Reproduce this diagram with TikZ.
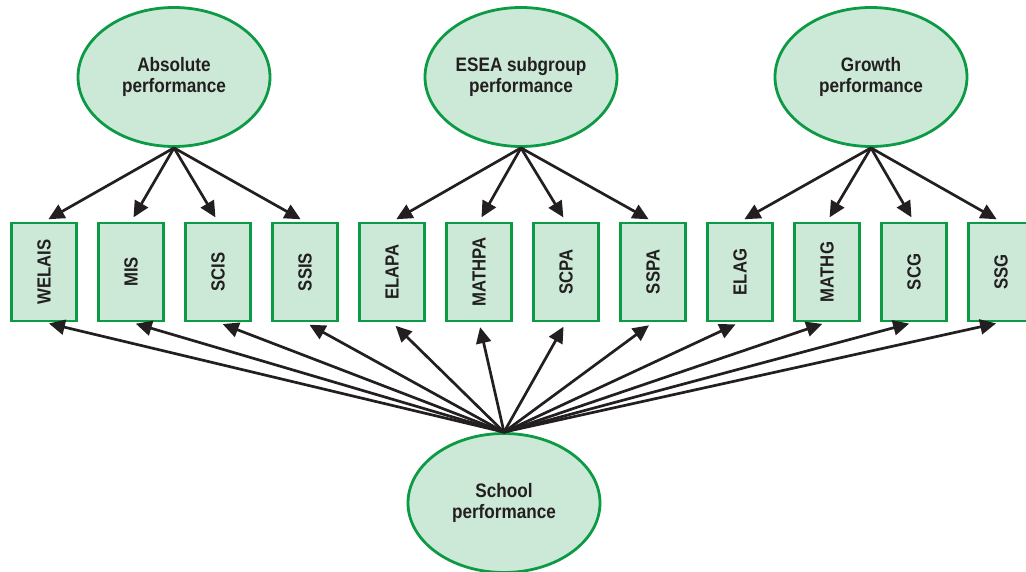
\documentclass[tikz,border=0pt]{standalone}
\usepackage{fontspec}
\setmainfont{Liberation Sans}[FakeStretch=0.88]
\usetikzlibrary{shapes.geometric,arrows.meta,positioning}
\definecolor{grn}{HTML}{0C9A45}
\definecolor{lgrn}{HTML}{CCE9D8}
\definecolor{blx}{HTML}{231F20}
\tikzset{
  latent/.style={ellipse,draw=grn,fill=lgrn,line width=2.8pt,minimum width=192pt,
    minimum height=139pt,inner sep=0pt,align=center,text=blx,
    font=\fontsize{19.5}{21.5}\selectfont\bfseries},
  measure/.style={rectangle,draw=grn,fill=lgrn,line width=2.6pt,minimum width=65pt,
    minimum height=98pt,inner sep=0pt,text=blx,font=\fontsize{19}{21}\selectfont\bfseries},
  load/.style={-{Triangle[length=16pt,width=15pt]},line width=2.7pt,draw=blx,shorten >=5pt}
}
\begin{document}
\begin{tikzpicture}[x=1pt,y=1pt]
    \useasboundingbox (0,0) rectangle (1026,571);

    % factors
    \node[latent] (abs) at (174,494) {Absolute\\performance};
    \node[latent] (esea) at (521,494) {ESEA subgroup\\performance};
    \node[latent] (grow) at (871,494) {Growth\\performance};
    \node[latent] (school) at (504,68) {School\\performance};

    % indicators
    \foreach \name [count=\i from 0] in {WELAIS,MIS,SCIS,SSIS,ELAPA,MATHPA,SCPA,SSPA,ELAG,MATHG,SCG,SSG}
        \node[measure] (\name) at (44+87*\i,299) {\rotatebox{90}{\name}};

    \foreach \name in {WELAIS,MIS,SCIS,SSIS}
        \draw[load] (abs.south) -- (\name.north);
    \foreach \name in {ELAPA,MATHPA,SCPA,SSPA}
        \draw[load] (esea.south) -- (\name.north);
    \foreach \name in {ELAG,MATHG,SCG,SSG}
        \draw[load] (grow.south) -- (\name.north);

    \foreach \name in {WELAIS,MIS,SCIS,SSIS,ELAPA,MATHPA,SCPA,SSPA,ELAG,MATHG,SCG,SSG}
        \draw[load] (school.north) -- (\name.south);
\end{tikzpicture}
\end{document}
